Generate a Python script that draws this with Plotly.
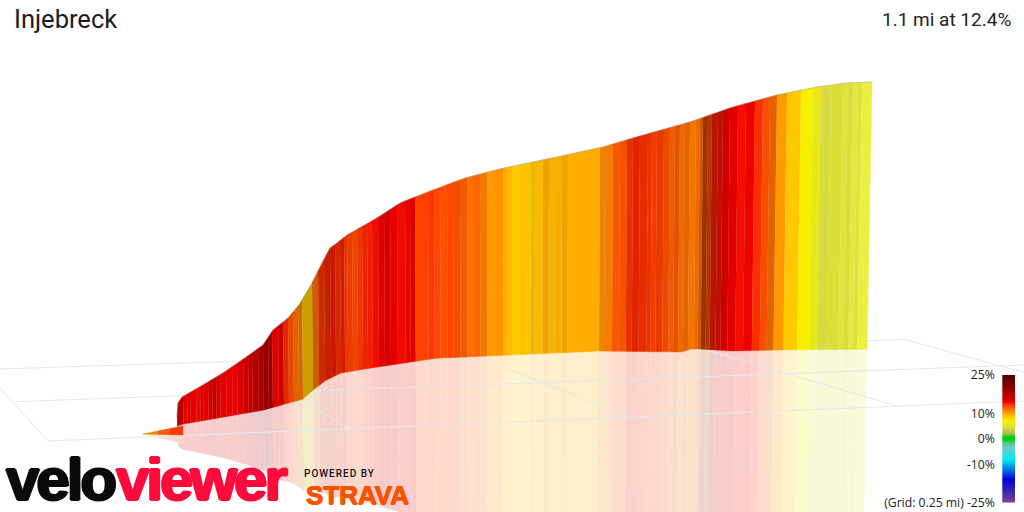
import numpy as np
import plotly.graph_objects as go

title = "Injebreck"
summary = "1.1 mi at 12.4%"

# Projected road profile
profile_x = [177, 178, 182, 203, 223, 242, 263, 273, 288, 299, 310, 320, 330, 337, 347, 377, 400, 433, 465, 500, 567, 603, 633, 690, 733, 777, 817, 847, 872]
profile_y = [417, 403, 397, 385, 373, 360, 345, 330, 318, 305, 287, 267, 248, 243, 235, 218, 203, 190, 178, 169, 155, 147, 138, 122, 107, 95, 87, 83, 82]
floor_x = [177, 183, 263, 302, 312, 325, 340, 370, 403, 437, 477, 600, 683, 693, 702, 733, 783, 866, 872]
floor_y = [426, 424, 410, 399, 390, 380, 373, 368, 363, 358, 356.5, 351, 352, 349, 349, 351, 350, 349.3, 349.3]

# Gradient stripes along the climb: start position, gradient in %, wall shading
band_start = [177, 183, 187, 190, 196, 200, 203, 208, 212, 216, 220, 226, 232, 237, 243, 248, 252, 258, 263, 268,
              272, 278, 283, 288, 293, 298, 302, 312, 318, 324, 330, 335, 340, 344, 347, 352, 357, 362, 367, 372,
              378, 384, 390, 397, 405, 410, 415, 428, 434, 440, 447, 453, 460, 467, 473, 480, 487, 495, 503, 507,
              512, 520, 528, 531, 535, 543, 549, 555, 562, 568, 600, 605, 613, 620, 627, 633, 640, 648, 652, 657,
              664, 670, 675, 680, 685, 690, 696, 700, 703, 708, 712, 718, 723, 730, 738, 746, 755, 763, 770, 777,
              787, 801, 813, 821, 831, 843, 848, 853, 858, 862]
band_grade = [17.5, 14.5, 15.5, 14.6, 14.3, 15.5, 15, 16, 16.8, 15.5, 15, 14.6, 14.5, 15.5, 16.2, 17, 17.8, 18.5, 20, 19,
              15, 16, 13.4, 12.5, 11.5, 11, 8.5, 11.5, 13.3, 13.6, 13.8, 13.4, 13.8, 13, 13, 12.6, 13.2, 13.6, 13.8, 14.2,
              15, 15.6, 14.5, 14.2, 14.4, 15, 13, 13.2, 12.8, 12.5, 12.8, 12.5, 12, 11.5, 11.8, 11, 10.2, 10.4, 9.5, 9,
              8.5, 8.8, 8.3, 8.8, 8.8, 9.5, 9, 9.2, 9.5, 9.5, 10.5, 11, 12.2, 12.4, 13.2, 13.6, 13.4, 13.2, 13, 13,
              12.5, 12, 12, 11.5, 11.5, 11, 11.5, 11.5, 12.6, 12.6, 13.8, 14, 16, 15, 14.2, 14.4, 13.4, 12.5, 11.5, 10.2,
              8.5, 7, 6, 4.2, 4.6, 4.4, 4.4, 4.4, 4.4, 4.4]
band_shade = [1, 1, 1, 1, 1, 1, 1, 1, 1, 1, 1, 1, 1, 1, 1, 1, 1, 1, 1, 1,
              1, 1, .9, .9, .88, .82, .8, .82, .82, .8, .82, .85, .88, .88, .92, .92, .95, .95, 1, 1,
              1, 1, 1, 1, 1, 1, 1, 1, 1, 1, 1, .95, .95, 1, 1, .95, 1, 1, 1, 1,
              1, 1, .97, .94, .97, .94, .96, .97, .94, 1, .92, .97, .97, .97, .9, .92, .93, .92, .95, .91,
              .92, .94, .88, .94, .88, .94, .94, .8, .63, .7, .75, .78, 1, 1, 1.03, 1, 1, .97, .88, 1,
              1, 1, 1, 1, 1, 1.03, 1, 1.05, 1.02, 1.08]
climb_end = 872

# Low orange lead-in before the wall
ramp_x = [143, 158, 170, 183]
ramp_top = [434, 431, 428.5, 426]
ramp_base = [434, 434.4, 434.7, 435]
ramp_grade = [10.5, 12, 13]

# Floor grid (projected)
grid_lines = [
    ([0, 905], [369, 339.5]),
    ([905, 1024], [339.5, 372.5]),
    ([15, 1024], [401.7, 365]),
    ([48, 1024], [441, 401]),
    ([0, 48], [388, 441]),
    ([302, 348], [399, 428.5]),
    ([477, 632], [357, 417.3]),
    ([707, 900], [350, 407]),
]

# Gradient legend
legend_ticks = [-25, -10, 0, 10, 25]
legend_labels = ["(Grid: 0.25 mi) -25%", "-10%", "0%", "10%", "25%"]
scale_pct = [-25, -20, -16, -8, -3.5, -1.2, -0.6, 0.6, 1.8, 3, 4.2, 7, 8.5, 10, 11.5, 13, 14.5, 20, 25]
scale_hex = ["#803f90", "#3020b0", "#0000e0", "#00f0f0", "#70c8c8", "#40c880", "#00d000", "#00d000", "#90c840", "#c8c060",
             "#d8dc40", "#f4f000", "#ffc800", "#ffa000", "#ff7000", "#ff4000", "#e80000", "#900000", "#4a0000"]

assert len(band_start) == len(band_grade) == len(band_shade)


def rgb(h):
    return np.array([int(h[i:i + 2], 16) for i in (1, 3, 5)], float)


scale_rgb = np.array([rgb(h) for h in scale_hex])


def grade_rgb(g, shade=1.0):
    return np.clip([np.interp(g, scale_pct, scale_rgb[:, c]) * shade for c in range(3)], 0, 255)


def css(c):
    return "rgb(%d,%d,%d)" % tuple(np.round(c))


def lean(x, h):
    return 5 * (x - 512) / 360 * (h / 266)


REFLECT = 0.93
ALPHA = 0.2


def section(x0, x1, px, py, fx, fy):
    xs = np.array(sorted({x0, x1, *[v for v in list(px) + list(fx) if x0 < v < x1]}), float)
    top = np.interp(xs, px, py)
    base = np.interp(xs, fx, fy)
    h = base - top
    bx = xs - lean(xs, h)
    rx = bx - lean(xs, h * REFLECT)
    ry = base + h * REFLECT
    return xs, top, bx, base, rx, ry


fig = go.Figure()
edges = band_start + [climb_end]
wall, mirror = [], []
for i, (g, s) in enumerate(zip(band_grade, band_shade)):
    xs, top, bx, base, rx, ry = section(edges[i], edges[i + 1], profile_x, profile_y, floor_x, floor_y)
    c = grade_rgb(g, s)
    pale = css(c * ALPHA + 255 * (1 - ALPHA))
    mirror.append(go.Scatter(x=np.r_[bx, rx[::-1]], y=np.r_[base, ry[::-1]], mode="lines", fill="toself",
                             fillcolor=pale, line=dict(color=pale, width=0.5), hoverinfo="skip"))
    wall.append(go.Scatter(x=np.r_[xs, bx[::-1]], y=np.r_[top, base[::-1]], mode="lines", fill="toself",
                           fillcolor=css(c), line=dict(color=css(c), width=0.5), hoverinfo="skip"))

ramp = []
for i, g in enumerate(ramp_grade):
    xs = ramp_x[i:i + 2]
    t, b = ramp_top[i:i + 2], ramp_base[i:i + 2]
    r = [bb + REFLECT * (bb - tt) for bb, tt in zip(b, t)]
    c = grade_rgb(g, 0.95)
    pale = css(c * ALPHA + 255 * (1 - ALPHA))
    mirror.append(go.Scatter(x=xs + xs[::-1], y=b + r[::-1], mode="lines", fill="toself", fillcolor=pale,
                             line=dict(color=pale, width=0.5), hoverinfo="skip"))
    ramp.append(go.Scatter(x=xs + xs[::-1], y=t + b[::-1], mode="lines", fill="toself", fillcolor=css(c),
                           line=dict(color=css(c), width=0.5), hoverinfo="skip"))

fig.add_traces(mirror)
for gx, gy in grid_lines:
    fig.add_trace(go.Scatter(x=gx, y=gy, mode="lines", line=dict(color="#e4e8ea", width=1), hoverinfo="skip"))
fig.add_traces(wall)
fig.add_traces(ramp)
fig.add_trace(go.Scatter(x=profile_x, y=profile_y, mode="lines", line=dict(color="rgba(150,150,150,0.55)", width=0.8),
                         hoverinfo="skip"))

levels = np.arange(-25, 25.01, 0.25)
colorscale = [[(p + 25) / 50, h] for p, h in zip(scale_pct, scale_hex)]
fig.add_trace(go.Heatmap(x=[0, 1], y=levels, z=[[v, v] for v in levels], zmin=-25, zmax=25, colorscale=colorscale,
                         showscale=False, hoverinfo="skip", xaxis="x2", yaxis="y2"))


def bold(col, r=1.0):
    return f"{r}px 0 0 {col}, -{r}px 0 0 {col}, 0 {r}px 0 {col}, 0 -{r}px 0 {col}"


LOGO_FONT = "Liberation Sans"
notes = [
    dict(text=title, x=12.5, y=19, xanchor="left", font=dict(family="Roboto", size=25.5, color="#1c1c1c")),
    dict(text=summary, x=1012, y=19, xanchor="right", font=dict(family="Roboto", size=19, color="#222222")),
    dict(text="velo", x=60, y=479, xanchor="center",
         font=dict(family=LOGO_FONT, size=60, weight=700, color="#0a0a0a", shadow=bold("#0a0a0a", 1.3))),
    dict(text="viewer", x=200, y=479, xanchor="center",
         font=dict(family=LOGO_FONT, size=60, weight=700, color="#ff0a3c", shadow=bold("#ff0a3c", 1.3))),
    dict(text="POWERED BY", x=340, y=473, xanchor="center",
         font=dict(family="Roboto", size=10, weight=500, color="#111111")),
    dict(text="STRAVA", x=357, y=494.5, xanchor="center",
         font=dict(family=LOGO_FONT, size=26, weight=700, color="#fc5200", shadow=bold("#fc5200", 0.5))),
]
for n in notes:
    n.update(xref="x", yref="y", yanchor="middle", showarrow=False)
    n["borderpad"] = 0

hidden = dict(visible=False, showgrid=False, zeroline=False, automargin=False)
fig.update_layout(
    width=1024, height=512, margin=dict(l=0, r=0, t=0, b=0), autosize=False,
    paper_bgcolor="white", plot_bgcolor="rgba(0,0,0,0)", showlegend=False,
    annotations=notes,
    xaxis=dict(range=[0, 1024], domain=[0, 1], **hidden),
    yaxis=dict(range=[512, 0], domain=[0, 1], **hidden),
    xaxis2=dict(range=[0, 1], domain=[1002.3 / 1024, 1015 / 1024], anchor="y2", **hidden),
    yaxis2=dict(range=[-25, 25], domain=[9.3 / 512, 137 / 512], anchor="x2", side="left", automargin=False,
                showgrid=False, zeroline=False, showline=False, ticks="outside", ticklen=4,
                tickcolor="rgba(0,0,0,0)", tickmode="array", tickvals=legend_ticks, ticktext=legend_labels,
                tickfont=dict(family="Open Sans", size=12.2, color="#222222")),
)
page_script = """
document.body.style.margin='0';
document.documentElement.style.overflow='hidden';
var spacing={'velo':'-3px','viewer':'-3px','POWERED BY':'1px'};
document.querySelectorAll('.annotation-text').forEach(function(t){
  if(spacing[t.textContent]){t.style.letterSpacing=spacing[t.textContent];}
});
"""
fig.write_html("out.html", config=dict(displayModeBar=False), post_script=page_script)
